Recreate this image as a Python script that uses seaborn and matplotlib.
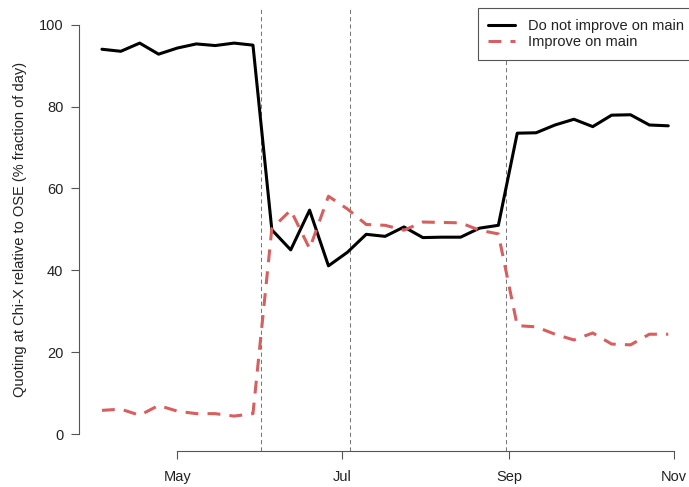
import numpy as np
import pandas as pd
import matplotlib
matplotlib.use("Agg")
import matplotlib.pyplot as plt
import matplotlib.dates as mdates
from matplotlib.lines import Line2D
import seaborn as sns

# ---- data ----
dates = pd.date_range("2012-04-03", periods=31, freq="7D")
not_improve = [94.0, 93.5, 95.5, 92.8, 94.3, 95.3, 94.9, 95.5, 95.0,
               49.9, 45.0, 54.7, 41.1, 44.4, 48.8, 48.3, 50.6, 48.0, 48.1, 48.1, 50.3, 51.0,
               73.5, 73.6, 75.5, 76.9, 75.1, 77.9, 78.0, 75.5, 75.3]
improve = [5.8, 6.1, 4.6, 7.0, 5.6, 5.0, 5.0, 4.4, 5.0,
           50.2, 54.7, 45.3, 58.1, 55.0, 51.2, 51.0, 49.8, 51.8, 51.7, 51.6, 49.8, 48.9,
           26.5, 26.2, 24.4, 23.0, 24.7, 22.0, 21.8, 24.4, 24.4]
series_names = ["Do not improve on main", "Improve on main"]
event_dates = pd.to_datetime(["2012-06-01", "2012-07-04", "2012-08-31"])
xtick_dates = pd.to_datetime(["2012-05-01", "2012-07-01", "2012-09-01", "2012-11-01"])
ytick_values = [0, 20, 40, 60, 80, 100]
ylabel = "Quoting at Chi-X relative to OSE (% fraction of day)"

df = pd.DataFrame({
    "date": list(dates) * 2,
    "value": not_improve + improve,
    "series": [series_names[0]] * len(dates) + [series_names[1]] * len(dates),
})

sns.set_theme(style="white")
plt.rcParams["font.family"] = ["Liberation Sans", "DejaVu Sans"]
plt.rcParams["font.size"] = 10.5

fig = plt.figure(figsize=(6.89, 4.87), dpi=100)
ax = fig.add_axes([79.3 / 689, 36.5 / 487, (690.9 - 79.3) / 689, (450.5 - 8.3) / 487])

RED = "#D65F5F"
palette = {series_names[0]: "black", series_names[1]: RED}
dashes = {series_names[0]: "", series_names[1]: (4.2, 3.0)}
sns.lineplot(data=df, x="date", y="value", hue="series", style="series",
             palette=palette, dashes=dashes, linewidth=2.2, ax=ax, legend=False)

for d in event_dates:
    ax.axvline(d, color="#777777", lw=0.75, linestyle=(0, (4, 3)), zorder=1)

# limits like R (4% padding)
span = dates[-1] - dates[0]
ax.set_xlim(dates[0] - 0.04 * span, dates[-1] + 0.04 * span)
ax.set_ylim(-4, 104)

ax.set_xticks(xtick_dates)
ax.xaxis.set_major_formatter(mdates.DateFormatter("%b"))
ax.set_yticks(ytick_values)

for s in ["top", "right"]:
    ax.spines[s].set_visible(False)
ax.spines["left"].set_bounds(0, 100)
ax.spines["bottom"].set_bounds(mdates.date2num(xtick_dates[0]), mdates.date2num(xtick_dates[-1]))
for s in ["left", "bottom"]:
    ax.spines[s].set_color("#555555")
    ax.spines[s].set_linewidth(0.8)

ax.tick_params(axis="both", which="major", bottom=True, left=True, length=6, width=0.8,
               color="#555555", labelsize=10.5, labelcolor="#222222")
ax.tick_params(axis="y", pad=5.5)
ax.tick_params(axis="x", pad=8)
ax.set_xlabel("")
ax.set_ylabel(ylabel, fontsize=10.5, color="#222222")
ax.yaxis.set_label_coords((27.0 - 79.3) / 611.6, 0.5)

handles = [Line2D([], [], color="black", lw=2.2),
           Line2D([], [], color=RED, lw=2.2, linestyle=(0, (4.2, 3.0)))]
leg = ax.legend(handles, series_names, loc="upper right",
                bbox_to_anchor=(1 + 4.0 / 611.6, 1.0), borderaxespad=0,
                frameon=True, fancybox=False, framealpha=1, edgecolor="#555555",
                fontsize=10.5, handlelength=1.85, handletextpad=0.9,
                labelspacing=0.16, borderpad=0.72)
leg.get_frame().set_linewidth(0.8)
for t in leg.get_texts():
    t.set_color("#222222")

fig.savefig("out.png", dpi=100)
